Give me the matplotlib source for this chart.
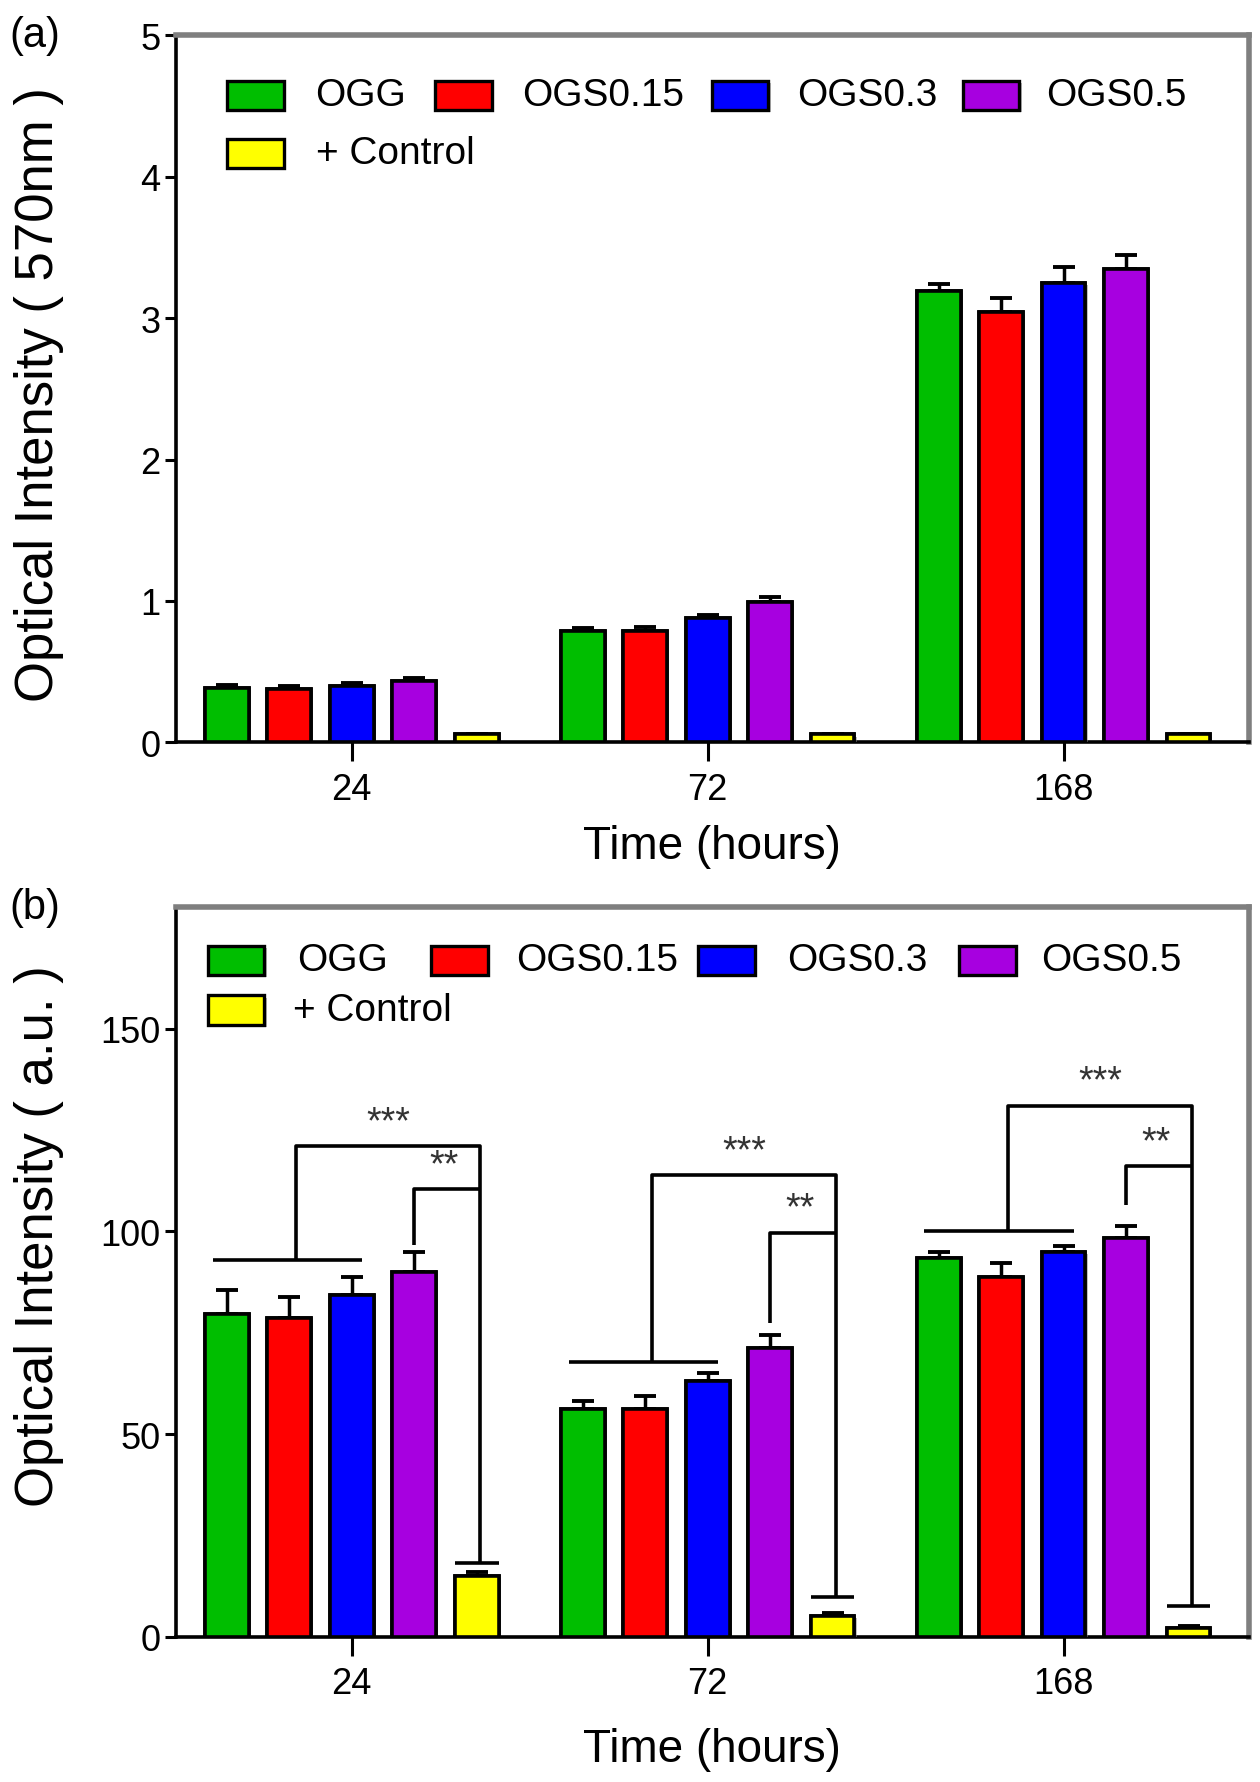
import numpy as np
import matplotlib.pyplot as plt
from matplotlib.patches import Rectangle
import matplotlib.patheffects as pe

plt.rcParams['font.family'] = ['Liberation Sans', 'DejaVu Sans']

# data
times = ['24', '72', '168']
groups = ['OGG', 'OGS0.15', 'OGS0.3', 'OGS0.5', '+ Control']
colors = ['#00BE00', '#FF0000', '#0000FF', '#A700E0', '#FFFF00']

# (a) optical intensity at 570 nm
a_ogg = [0.385, 0.786, 3.19]
a_ogs015 = [0.377, 0.786, 3.04]
a_ogs03 = [0.400, 0.880, 3.25]
a_ogs05 = [0.433, 0.995, 3.35]
a_ctrl = [0.056, 0.056, 0.056]
a_err_ogg = [0.02, 0.025, 0.05]
a_err_ogs015 = [0.02, 0.03, 0.10]
a_err_ogs03 = [0.02, 0.02, 0.11]
a_err_ogs05 = [0.02, 0.03, 0.10]
a_err_ctrl = [0.005, 0.005, 0.005]

# (b) optical intensity (a.u.)
b_ogg = [79.5, 56.2, 93.5]
b_ogs015 = [78.7, 56.2, 88.8]
b_ogs03 = [84.3, 63.0, 95.0]
b_ogs05 = [89.9, 71.3, 98.3]
b_ctrl = [14.9, 5.1, 2.2]
b_err_ogg = [5.9, 1.9, 1.5]
b_err_ogs015 = [5.0, 3.1, 3.3]
b_err_ogs03 = [4.5, 2.0, 1.3]
b_err_ogs05 = [5.1, 3.1, 3.1]
b_err_ctrl = [1.1, 0.8, 0.4]

# significance brackets in (b)
sig_base = [93.0, 67.7, 100.0]
sig_top3 = [121.0, 113.8, 131.0]
sig_top2 = [110.4, 99.7, 116.0]
sig_start2 = [96.5, 77.5, 106.5]
sig_ctrl = [18.3, 9.8, 7.6]

a_vals = [a_ogg, a_ogs015, a_ogs03, a_ogs05, a_ctrl]
a_errs = [a_err_ogg, a_err_ogs015, a_err_ogs03, a_err_ogs05, a_err_ctrl]
b_vals = [b_ogg, b_ogs015, b_ogs03, b_ogs05, b_ctrl]
b_errs = [b_err_ogg, b_err_ogs015, b_err_ogs03, b_err_ogs05, b_err_ctrl]

W0, H0 = 1110.0, 1571.0  # layout frame


def fx(x):
    return x / W0


def fy(y):
    return 1 - y / H0


fig = plt.figure(figsize=(12.6, 17.83), dpi=100)
ax_a = fig.add_axes([fx(155), fy(655), fx(945), 623 / H0])
ax_b = fig.add_axes([fx(155), fy(1443), fx(945), 643 / H0])

x = np.arange(len(times))
step, width = 0.1755, 0.123
shadow = [pe.withSimplePatchShadow(offset=(1.5, -1.5), shadow_rgbFace='0.5', alpha=0.5), pe.Normal()]


def draw_bars(ax, vals, errs):
    for i, (v, e) in enumerate(zip(vals, errs)):
        xi = x + (i - 2) * step
        ax.errorbar(xi, v, yerr=[np.zeros(len(v)), e], fmt='none', ecolor='black',
                    elinewidth=2.5, capsize=8, capthick=2.8, zorder=2)
        bars = ax.bar(xi, v, width, color=colors[i], edgecolor='black', linewidth=2.6, zorder=3)
        for b in bars:
            b.set_path_effects(shadow)


def style(ax, ymax, yticks, ylabel, ylab_y, xlab_y):
    ax.set_xlim(-0.494, 2.52)
    ax.set_ylim(0, ymax)
    ax.set_yticks(yticks)
    ax.set_xticks(x)
    ax.set_xticklabels(times)
    ax.tick_params(axis='y', length=8, width=2.2, labelsize=26, pad=3)
    ax.tick_params(axis='x', length=14, width=2.2, labelsize=26, pad=7)
    for s in ['left', 'bottom']:
        ax.spines[s].set_linewidth(2.6)
        ax.spines[s].set_color('black')
    for s in ['top', 'right']:
        ax.spines[s].set_linewidth(4)
        ax.spines[s].set_color('#7f7f7f')
    ax.set_ylabel(ylabel, fontsize=38)
    ax.yaxis.set_label_coords(-0.104, ylab_y)
    ax.set_xlabel('Time (hours)', fontsize=33)
    ax.xaxis.set_label_coords(0.5, xlab_y)


def draw_legend(handle_x, text_x, row_y):
    pos = [(0, 0), (0, 1), (1, 0), (2, 0), (3, 0)]
    order = [0, 4, 1, 2, 3]
    for k, gi in enumerate(order):
        col, row = pos[k]
        cy = row_y[row]
        fig.patches.append(Rectangle((fx(handle_x[col] + 2), fy(cy + 15)), fx(50), 26 / H0,
                                     transform=fig.transFigure, facecolor='0.55',
                                     edgecolor='none', alpha=0.6))
        fig.patches.append(Rectangle((fx(handle_x[col]), fy(cy + 13)), fx(50), 26 / H0,
                                     transform=fig.transFigure, facecolor=colors[gi],
                                     edgecolor='black', linewidth=2.4))
        tx = text_x[col] if row == 0 else text_x[-1]
        fig.text(fx(tx), fy(cy), groups[gi], fontsize=28, va='center', ha='left')


draw_bars(ax_a, a_vals, a_errs)
style(ax_a, 5, [0, 1, 2, 3, 4, 5], 'Optical Intensity ( 570nm )', 0.493, -0.116)
draw_legend([200, 383, 627, 848], [278, 460, 702, 922, 278], [85, 136])

draw_bars(ax_b, b_vals, b_errs)
style(ax_b, 180, [0, 50, 100, 150], 'Optical Intensity ( a.u. )', 0.55, -0.124)
draw_legend([183, 380, 615, 845], [262, 455, 693, 917, 258], [847, 891])

# significance brackets
lk = dict(color='black', lw=2.6, zorder=4, solid_capstyle='butt')
for j in range(len(times)):
    c_green = x[j] - 2 * step
    c_blue = x[j]
    c_purple = x[j] + step
    c_ctrl = x[j] + 2 * step
    base_l, base_r = c_green - 0.04, c_blue + 0.03
    mid = (c_green + c_blue) / 2 + 0.02
    right = c_ctrl + 0.01
    ax_b.plot([base_l, base_r], [sig_base[j]] * 2, **lk)
    ax_b.plot([mid, mid, right, right], [sig_base[j], sig_top3[j], sig_top3[j], sig_ctrl[j]], **lk)
    ax_b.plot([c_ctrl - width / 2, c_ctrl + width / 2], [sig_ctrl[j]] * 2, **lk)
    ax_b.plot([c_purple, c_purple, right], [sig_start2[j], sig_top2[j], sig_top2[j]], **lk)
    ax_b.text((mid + right) / 2, sig_top3[j] + 1.5, '***', ha='center', va='bottom',
              fontsize=27, color='#333333')
    ax_b.text((c_purple + right) / 2 - 0.01, sig_top2[j] + 1.5, '**', ha='center', va='bottom',
              fontsize=27, color='#333333')

fig.text(fx(8), fy(32), '(a)', fontsize=30, va='center', ha='left')
fig.text(fx(8), fy(800), '(b)', fontsize=30, va='center', ha='left')

fig.savefig('out.png', dpi=100)
